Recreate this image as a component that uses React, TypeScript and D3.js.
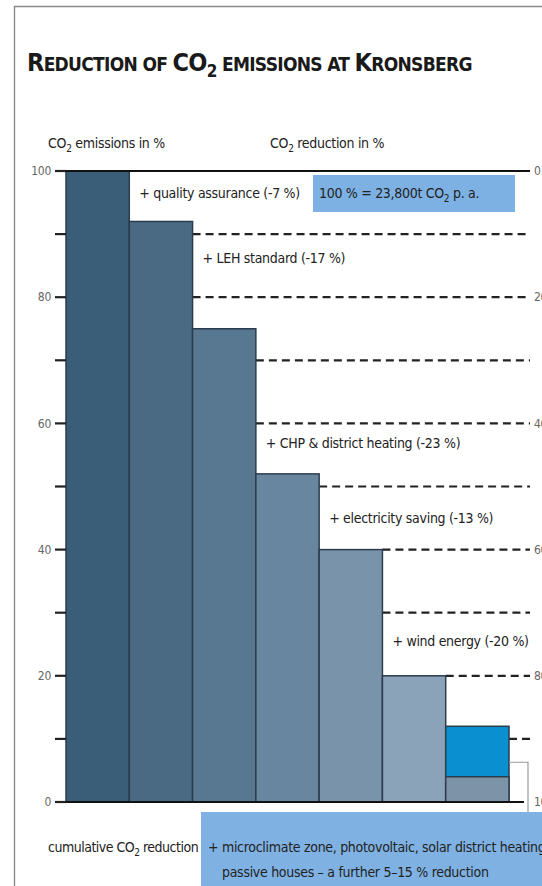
import React from 'react';
import * as d3 from 'd3';

// emissions remaining after each measure (% of 23,800 t CO2 p. a.)
const steps = ['baseline', 'quality assurance', 'LEH standard', 'CHP & district heating', 'electricity saving', 'wind energy', 'further measures'];
const emissions = [100, 92, 75, 52, 40, 20, 12];
const furtherBase = 4;
const stepLabels = [
  '+ quality assurance (-7 %)',
  '+ LEH standard (-17 %)',
  '+ CHP & district heating (-23 %)',
  '+ electricity saving (-13 %)',
  '+ wind energy (-20 %)',
];
// vertical anchor of each step label, in % units
const stepLabelAt = [96.5, 86.2, 56.9, 45.0, 25.5];
const leftTicks = [0, 10, 20, 30, 40, 50, 60, 70, 80, 90, 100];
const leftTickLabels = [0, 20, 40, 60, 80, 100];
const rightTickLabels = [0, 20, 40, 60, 80, 100];

const barColors = ['#3b5e78', '#4a6a83', '#587791', '#68869f', '#7893aa', '#8aa3b9', '#7d93a8'];
const FONT = "'DejaVu Sans Condensed', 'Liberation Sans Narrow', sans-serif";

const W = 542;
const H = 886;

export default function App() {
  const x = d3.scaleBand<string>().domain(steps).range([66, 509]).paddingInner(0).paddingOuter(0);
  const y = d3.scaleLinear().domain([0, 100]).range([802, 171]);
  const yRed = d3.scaleLinear().domain([0, 100]).range([171, 802]);
  const bw = x.bandwidth();
  const lineEnd = 530;

  // dashed guide starts right of the last bar that still reaches the level
  const dashStart = (v: number) => {
    let idx = -1;
    emissions.forEach((e, i) => { if (e >= v) idx = i; });
    return (x(steps[idx]) ?? 0) + bw;
  };

  return (
    <svg width={W} height={H} style={{ position: 'absolute', left: 0, top: 0, background: '#fff' }}
      fontFamily={FONT} letterSpacing={-0.3}>
      {/* frame */}
      <path d={`M14.5,${H} V6.5 H${W}`} fill="none" stroke="#8a8a8a" strokeWidth={1.4} />

      {/* title */}
      <text x={27} y={71} fontWeight="bold" fill="#1a1a1a" letterSpacing={-0.7}>
        <tspan fontSize={25}>R</tspan>
        <tspan fontSize={19}>EDUCTION OF </tspan>
        <tspan fontSize={25}>CO</tspan>
        <tspan fontSize={17} dy={6}>2</tspan>
        <tspan fontSize={19} dy={-6}> EMISSIONS AT </tspan>
        <tspan fontSize={25}>K</tspan>
        <tspan fontSize={19}>RONSBERG</tspan>
      </text>

      {/* axis titles */}
      <text x={48} y={148} fontSize={14} fill="#222">
        CO<tspan fontSize={10} dy={4}>2</tspan><tspan dy={-4}> emissions in %</tspan>
      </text>
      <text x={270} y={148} fontSize={14} fill="#222">
        CO<tspan fontSize={10} dy={4}>2</tspan><tspan dy={-4}> reduction in %</tspan>
      </text>

      {/* dashed guides */}
      {leftTicks.filter(v => v > 0 && v < 100).map(v => (
        <line key={`d${v}`} x1={dashStart(v)} x2={lineEnd} y1={y(v)} y2={y(v)}
          stroke="#222" strokeWidth={2.2} strokeDasharray="8,5" />
      ))}

      {/* bars */}
      {emissions.map((e, i) => (
        <rect key={steps[i]} x={x(steps[i])} y={y(e)} width={bw} height={y(0) - y(e)}
          fill={i === emissions.length - 1 ? '#0a8fd0' : barColors[i]} stroke="#2b3d4c" strokeWidth={1.5} />
      ))}
      <rect x={x(steps[6])} y={y(furtherBase)} width={bw} height={y(0) - y(furtherBase)}
        fill={barColors[6]} stroke="#2b3d4c" strokeWidth={1.5} />

      {/* top and bottom solid lines */}
      <line x1={55} x2={lineEnd} y1={y(100)} y2={y(100)} stroke="#111" strokeWidth={2.2} />
      <line x1={55} x2={524} y1={y(0)} y2={y(0)} stroke="#111" strokeWidth={2.2} />

      {/* left ticks */}
      {leftTicks.map(v => (
        <line key={`t${v}`} x1={55} x2={66} y1={y(v)} y2={y(v)} stroke="#222" strokeWidth={2.2} />
      ))}
      {leftTickLabels.map(v => (
        <text key={`l${v}`} x={51} y={y(v)} dy="0.35em" textAnchor="end" fontSize={12} fill="#666">{v}</text>
      ))}

      {/* right labels (cut by the page edge, as in the source) */}
      {rightTickLabels.map(v => (
        <text key={`r${v}`} x={534} y={yRed(v)} dy="0.35em" fontSize={12} fill="#666">{v}</text>
      ))}

      {/* step labels */}
      {stepLabels.map((s, i) => (
        <text key={s} x={(x(steps[i + 1]) ?? 0) + 10} y={y(stepLabelAt[i])} dy="0.35em" fontSize={14} fill="#222">{s}</text>
      ))}

      {/* info box */}
      <rect x={313} y={175} width={202} height={37} fill="#7eb1e3" />
      <text x={319} y={198} fontSize={14} fill="#222">
        100 % = 23,800t CO<tspan fontSize={10} dy={4}>2</tspan><tspan dy={-4}> p. a.</tspan>
      </text>

      {/* connector to the bottom box */}
      <polyline points={`${(x(steps[6]) ?? 0) + bw},${y(6.3)} 528,${y(6.3)} 528,813`} fill="none" stroke="#9a9a9a" strokeWidth={1.2} />

      {/* bottom box */}
      <rect x={201} y={812} width={W - 201} height={H - 812} fill="#7fb2e2" />
      <text x={208} y={852} fontSize={14} fill="#222">+ microclimate zone, photovoltaic, solar district heating,</text>
      <text x={222} y={877} fontSize={14} fill="#222">passive houses – a further 5–15 % reduction</text>

      <text x={48} y={852} fontSize={14} fill="#222" letterSpacing={-0.5}>
        cumulative CO<tspan fontSize={10} dy={4}>2</tspan><tspan dy={-4}> reduction</tspan>
      </text>
    </svg>
  );
}
